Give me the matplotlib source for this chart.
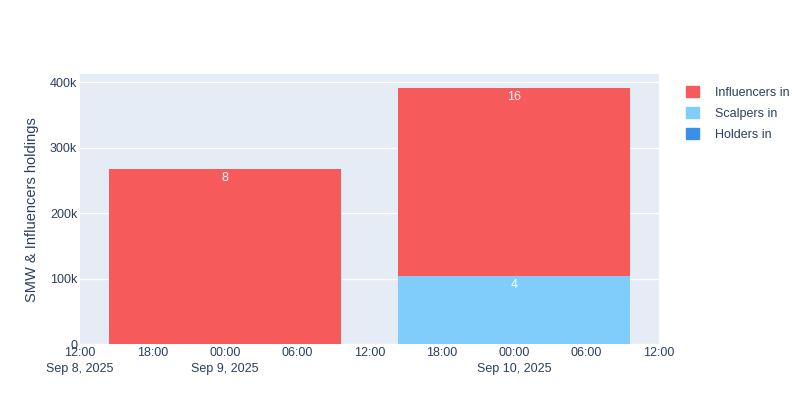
import matplotlib
matplotlib.use("Agg")
import matplotlib.pyplot as plt
import matplotlib.dates as mdates
from matplotlib.patches import Patch
from datetime import datetime, timedelta

plt.rcParams['font.family'] = ['Liberation Sans', 'DejaVu Sans']

dates = [datetime(2025, 9, 9), datetime(2025, 9, 10)]
holders = [0, 0]
scalpers = [0, 104000]
influencers = [267000, 287000]
scalper_counts = [None, "4"]
influencer_counts = ["8", "16"]

c_inf, c_sc, c_ho = "#F65A5A", "#80CDFC", "#3A8FE8"

fig = plt.figure(figsize=(7.92, 4.03), dpi=100)
ax = fig.add_axes([0.101, 0.146, 0.731, 0.670])
ax.set_facecolor("#E5ECF6")
w = 0.8
xs = mdates.date2num(dates)
ax.bar(xs, holders, width=w, color=c_ho, zorder=2)
ax.bar(xs, scalpers, width=w, bottom=holders, color=c_sc, zorder=2)
bot = [h + s for h, s in zip(holders, scalpers)]
ax.bar(xs, influencers, width=w, bottom=bot, color=c_inf, zorder=2)
for x, b, v, s, lbl, sl in zip(xs, bot, influencers, scalpers, influencer_counts, scalper_counts):
    ax.text(x, b + v - 4000, lbl, ha="center", va="top", color="white", fontsize=9, zorder=3)
    if sl:
        ax.text(x, s - 4000, sl, ha="center", va="top", color="white", fontsize=9, zorder=3)

ax.set_xlim(mdates.date2num(datetime(2025, 9, 8, 12)), mdates.date2num(datetime(2025, 9, 10, 12)))
ax.set_ylim(0, 412000)
ax.set_yticks([0, 100000, 200000, 300000, 400000])
ax.set_yticklabels(["0", "100k", "200k", "300k", "400k"])
start = datetime(2025, 9, 8, 12)
ticks = [start + timedelta(hours=6 * i) for i in range(9)]
labels = []
for t in ticks:
    s = t.strftime("%H:%M")
    if t.hour == 0 or t == start:
        s += "\n" + t.strftime("%b ") + str(t.day) + ", 2025"
    labels.append(s)
ax.set_xticks(mdates.date2num(ticks))
ax.set_xticklabels(labels, linespacing=1.5)
ax.grid(True, color="white", linewidth=1, zorder=0)
ax.grid(False, axis="x")
for sp in ax.spines.values():
    sp.set_visible(False)
ax.tick_params(length=0, colors="#2A3F5F", labelsize=9)
ax.tick_params(axis="x", pad=2)
ax.tick_params(axis="y", pad=2)
ax.set_ylabel("SMW & Influencers holdings", color="#2A3F5F", fontsize=10.5, labelpad=8)

handles = [Patch(color=c_inf, label="Influencers in"), Patch(color=c_sc, label="Scalpers in"),
           Patch(color=c_ho, label="Holders in")]
leg = fig.legend(handles=handles, loc="upper left", bbox_to_anchor=(0.852, 0.815), frameon=False,
                 fontsize=9, handlelength=1.0, handleheight=1.0, labelspacing=0.65, handletextpad=1.3)
for t in leg.get_texts():
    t.set_color("#2A3F5F")
fig.savefig("out.png", dpi=100, facecolor="white")
